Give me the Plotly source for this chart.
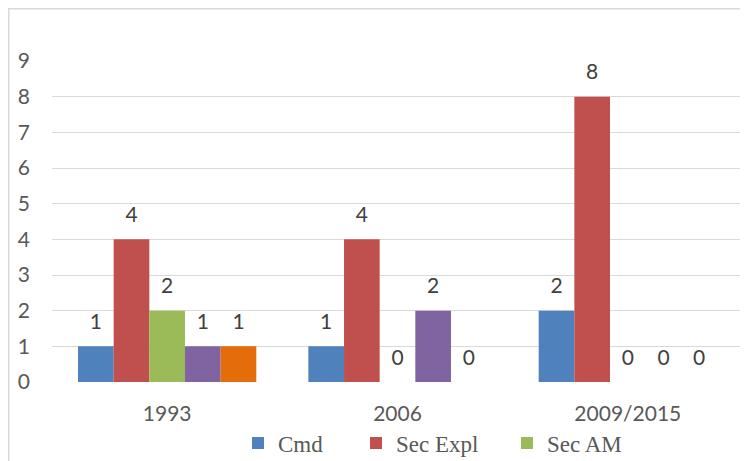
import plotly.graph_objects as go

categories = ["1993", "2006", "2009/2015"]
series_names = ["Cmd", "Sec Expl", "Sec AM", "Série 4", "Série 5"]
cmd = [1, 1, 2]
sec_expl = [4, 4, 8]
sec_am = [2, 0, 0]
serie4 = [1, 2, 0]
serie5 = [1, 0, 0]
y_ticks = [0, 1, 2, 3, 4, 5, 6, 7, 8, 9]

all_values = [cmd, sec_expl, sec_am, serie4, serie5]
colors = ["#4F81BD", "#C0504D", "#9BBB59", "#8064A2", "#E46C0A"]
legend_ids = ["legend", "legend2", "legend3", None, None]

# page body has an 8px margin, figure sits at (8, 8)
OFF = 8
W, H = 748 - OFF, 461 - OFF
ML, MR, MT, MB = 52 - OFF, 5, 61 - OFF, 79
pw, ph = W - ML - MR, H - MT - MB

def px_x(p):
    return (p - OFF - ML) / pw

def px_y(p):
    return (H - MB - (p - OFF)) / ph

fig = go.Figure()
for i, (name, vals, col) in enumerate(zip(series_names, all_values, colors)):
    kw = dict(legend=legend_ids[i]) if legend_ids[i] else dict(showlegend=False)
    fig.add_trace(go.Bar(
        x=categories, y=vals, name=name, marker=dict(color=col, line=dict(width=0)),
        offsetgroup=str(i), hoverinfo="skip", **kw,
    ))
for i, (name, vals) in enumerate(zip(series_names, all_values)):
    fig.add_trace(go.Scatter(
        x=categories, y=vals, mode="markers+text", text=[str(v) for v in vals],
        textposition="top center", marker=dict(size=18, opacity=0),
        textfont=dict(family="Lato", size=21, color="#404040"),
        offsetgroup=str(i), showlegend=False, hoverinfo="skip", cliponaxis=False,
    ))

legend_font = dict(family="Liberation Serif", size=23, color="#595959")
def leg(px):
    return dict(orientation="h", x=px_x(px), xanchor="left", y=px_y(443), yanchor="middle",
                font=legend_font, bgcolor="rgba(0,0,0,0)")

fig.update_layout(
    width=W, height=H,
    margin=dict(l=ML, r=MR, t=MT, b=MB, autoexpand=False),
    paper_bgcolor="white", plot_bgcolor="white",
    barmode="group", bargap=0.226, bargroupgap=0,
    scattermode="group", scattergap=0.226,
    font=dict(family="Lato", color="#595959"),
    legend=leg(238), legend2=leg(356), legend3=leg(507),
    xaxis=dict(
        showgrid=False, showline=False, zeroline=False, ticks="", automargin=False,
        tickfont=dict(family="Lato", size=21, color="#595959"),
        ticklabelstandoff=17,
    ),
    yaxis=dict(
        range=[0, 9], tickvals=y_ticks, showgrid=True, gridcolor="#d9d9d9", gridwidth=1.3,
        zeroline=False, showline=False, ticks="", automargin=False,
        tickfont=dict(family="Lato", size=21, color="#595959"),
        ticklabelstandoff=21,
    ),
    shapes=[
        dict(type="line", xref="paper", yref="paper", x0=px_x(8), x1=px_x(760),
             y0=px_y(8.5), y1=px_y(8.5), line=dict(color="#d9d9d9", width=2)),
        dict(type="line", xref="paper", yref="paper", x0=px_x(8.5), x1=px_x(8.5),
             y0=px_y(8), y1=px_y(470), line=dict(color="#d9d9d9", width=2)),
    ],
)

fig.write_html("out.html")
